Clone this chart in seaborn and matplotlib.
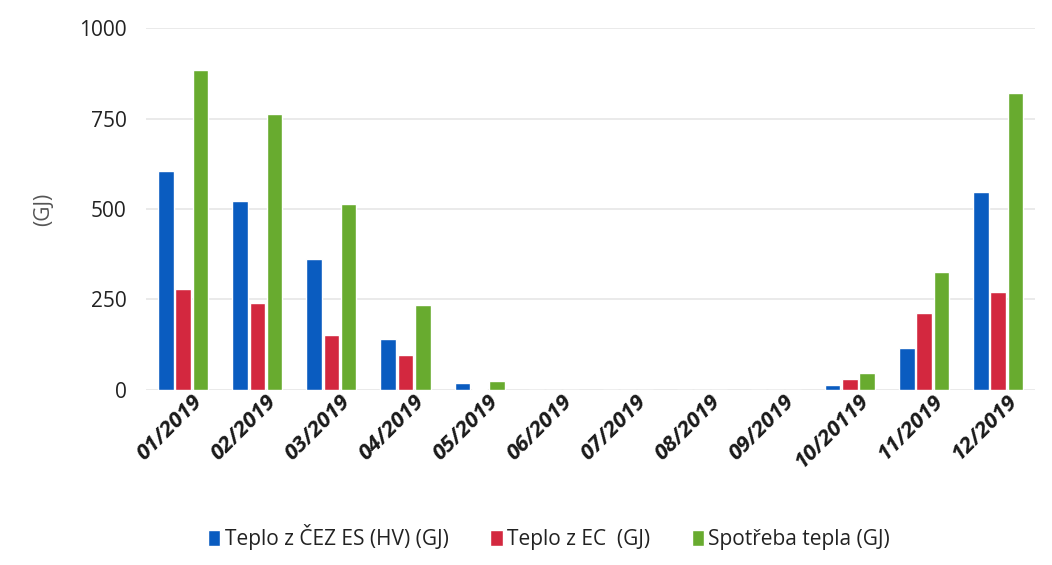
import pandas as pd
import matplotlib
matplotlib.use('Agg')
import matplotlib.pyplot as plt
import matplotlib.transforms as mtransforms
import seaborn as sns

months = ['01/2019', '02/2019', '03/2019', '04/2019', '05/2019', '06/2019',
          '07/2019', '08/2019', '09/2019', '10/20119', '11/2019', '12/2019']
series = ['Teplo z ČEZ ES (HV) (GJ)', 'Teplo z EC  (GJ)', 'Spotřeba tepla (GJ)']
cez = [606, 521, 361, 140, 20, 0, 0, 0, 0, 14, 115, 548]
ec = [278, 240, 152, 97, 2, 0, 0, 0, 0, 30, 212, 270]
spotreba = [885, 762, 513, 235, 25, 0, 0, 0, 0, 46, 327, 820]
colors = ['#0a5cc0', '#d3283f', '#68ab2f']

data = pd.DataFrame({
    'month': months * 3,
    'series': [series[0]] * 12 + [series[1]] * 12 + [series[2]] * 12,
    'value': cez + ec + spotreba,
})

sns.set_style('white')
plt.rcParams['font.family'] = ['Open Sans', 'DejaVu Sans']

fig, ax = plt.subplots(figsize=(10.52, 5.65), dpi=100)
fig.subplots_adjust(left=0.139, right=0.984, bottom=0.31, top=0.95)

sns.barplot(data=data, x='month', y='value', hue='series', palette=colors,
            saturation=1, width=0.7, gap=0.1, ax=ax)

ax.set_ylim(0, 1000)
ax.set_yticks([0, 250, 500, 750, 1000])
ax.yaxis.grid(True, color='#e6e6e6', linewidth=1.2)
ax.set_axisbelow(True)
for s in ax.spines.values():
    s.set_visible(False)
ax.tick_params(axis='both', length=0)
ax.tick_params(axis='y', labelsize=15, labelcolor='#222222', pad=14)
# nudge month labels so they end under the green bar, like the original
shift = mtransforms.ScaledTranslation(8 / 100, 4 / 100, fig.dpi_scale_trans)
for lbl in ax.get_xticklabels():
    lbl.set_rotation(45)
    lbl.set_ha('right')
    lbl.set_rotation_mode('anchor')
    lbl.set_fontsize(16)
    lbl.set_fontweight('bold')
    lbl.set_fontstyle('italic')
    lbl.set_color('#1a1a1a')
    lbl.set_transform(lbl.get_transform() + shift)
ax.set_xlabel('')
ax.set_ylabel('(GJ)', fontsize=15, color='#555555', labelpad=18)

ax.legend(loc='upper center', bbox_to_anchor=(0.453, -0.32), ncol=3, frameon=False,
          fontsize=15, handlelength=0.6, handleheight=0.8, handletextpad=0.2,
          columnspacing=2.0, labelcolor='#222222')

plt.savefig('out.png', dpi=100)
